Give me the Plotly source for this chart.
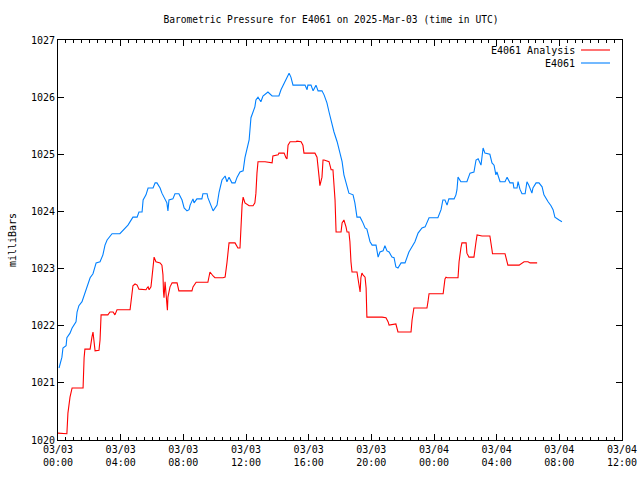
import plotly.graph_objects as go
import pandas as pd

# ---- data (minutes after 2025-03-03 00:00 UTC, pressure in mbar) ----
obs_minutes = [4, 15, 19, 31, 34, 46, 54, 61, 69, 73, 80, 92, 103, 115, 123, 134, 146, 161, 172, 180,
               188, 207, 237, 268, 283, 287, 303, 310, 322, 326, 337, 345, 364, 372, 379, 391, 398, 406, 417, 421,
               425, 440, 448, 463, 475, 483, 494, 502, 506, 517, 521, 532, 551, 555, 571, 574, 590, 594, 609, 617,
               628, 640, 647, 655, 666, 678, 686, 697, 709, 716, 732, 739, 754, 758, 766, 777, 785, 804, 820, 846,
               854, 862, 869, 877, 885, 892, 900, 946, 954, 957, 969, 977, 988, 996, 1011, 1019, 1030, 1038, 1049, 1057,
               1069, 1076, 1088, 1095, 1107, 1114, 1130, 1137, 1145, 1157, 1168, 1176, 1183, 1195, 1203, 1218, 1226, 1233, 1245, 1252,
               1260, 1268, 1279, 1287, 1294, 1302, 1314, 1329, 1344, 1360, 1367, 1379, 1394, 1406, 1421, 1455, 1467, 1474, 1482, 1490,
               1497, 1517, 1524, 1528, 1532, 1543, 1566, 1578, 1593, 1601, 1609, 1620, 1624, 1628, 1635, 1654, 1662, 1670, 1677, 1681,
               1693, 1712, 1720, 1731, 1743, 1746, 1758, 1762, 1769, 1777, 1789, 1796, 1804, 1815, 1819, 1831, 1842, 1854, 1861, 1869,
               1877, 1888, 1896, 1903, 1911, 1919, 1930]
obs_values = [1021.26, 1021.45, 1021.61, 1021.65, 1021.79, 1021.87, 1021.96, 1022.01, 1022.07, 1022.24, 1022.35, 1022.42, 1022.57, 1022.75, 1022.84, 1022.91, 1023.10, 1023.12, 1023.24, 1023.41,
              1023.50, 1023.61, 1023.61, 1023.76, 1023.87, 1023.90, 1023.90, 1023.99, 1023.99, 1024.20, 1024.29, 1024.41, 1024.41, 1024.50, 1024.50, 1024.41, 1024.32, 1024.25, 1024.15, 1024.01,
              1024.20, 1024.22, 1024.31, 1024.31, 1024.20, 1024.06, 1024.01, 1024.03, 1024.11, 1024.22, 1024.15, 1024.22, 1024.22, 1024.31, 1024.31, 1024.24, 1024.08, 1024.01, 1024.11, 1024.34,
              1024.55, 1024.62, 1024.52, 1024.60, 1024.50, 1024.50, 1024.60, 1024.69, 1024.71, 1024.94, 1025.25, 1025.64, 1025.83, 1025.95, 1026.00, 1025.92, 1026.02, 1026.09, 1026.02, 1026.02,
              1026.13, 1026.21, 1026.25, 1026.34, 1026.42, 1026.35, 1026.21, 1026.21, 1026.13, 1026.21, 1026.21, 1026.11, 1026.21, 1026.11, 1026.11, 1026.04, 1025.90, 1025.74, 1025.51, 1025.39,
              1025.22, 1025.08, 1024.87, 1024.64, 1024.43, 1024.32, 1024.29, 1024.15, 1023.90, 1023.90, 1023.80, 1023.71, 1023.69, 1023.47, 1023.41, 1023.41, 1023.20, 1023.29, 1023.31, 1023.40,
              1023.31, 1023.29, 1023.20, 1023.19, 1023.03, 1023.01, 1023.10, 1023.10, 1023.29, 1023.40, 1023.47, 1023.62, 1023.71, 1023.73, 1023.89, 1023.89, 1024.03, 1024.20, 1024.20, 1024.11,
              1024.22, 1024.22, 1024.29, 1024.38, 1024.60, 1024.52, 1024.52, 1024.67, 1024.69, 1024.90, 1024.92, 1024.81, 1025.02, 1025.11, 1025.02, 1025.00, 1024.85, 1024.81, 1024.64, 1024.69,
              1024.52, 1024.52, 1024.60, 1024.50, 1024.50, 1024.41, 1024.41, 1024.52, 1024.39, 1024.31, 1024.31, 1024.52, 1024.45, 1024.32, 1024.41, 1024.50, 1024.50, 1024.43, 1024.29, 1024.22,
              1024.17, 1024.10, 1024.03, 1023.90, 1023.87, 1023.85, 1023.82]

ana_minutes = [0, 34, 38, 46, 54, 96, 100, 103, 123, 126, 130, 134, 138, 142, 157, 161, 165, 191, 199, 211,
               218, 226, 276, 283, 287, 295, 303, 310, 337, 341, 345, 349, 356, 360, 364, 368, 375, 391, 398, 402,
               404, 406, 410, 414, 417, 419, 421, 429, 437, 456, 463, 513, 517, 529, 574, 582, 594, 601, 632, 640,
               647, 651, 655, 678, 689, 697, 701, 705, 709, 716, 732, 747, 754, 758, 762, 766, 793, 812, 820, 823,
               843, 846, 866, 873, 877, 881, 889, 912, 915, 931, 938, 942, 984, 992, 996, 1000, 1003, 1011, 1015, 1019,
               1038, 1046, 1053, 1061, 1065, 1084, 1088, 1092, 1095, 1103, 1107, 1114, 1118, 1122, 1126, 1145, 1149, 1153, 1157, 1160,
               1164, 1168, 1176, 1180, 1183, 1241, 1256, 1264, 1268, 1294, 1298, 1302, 1352, 1356, 1363, 1413, 1417, 1421, 1475, 1482,
               1486, 1490, 1532, 1536, 1543, 1547, 1563, 1566, 1574, 1593, 1601, 1605, 1624, 1654, 1662, 1664, 1712, 1723, 1766, 1781,
               1785, 1800, 1808, 1835]
ana_values = [1020.12, 1020.11, 1020.47, 1020.75, 1020.91, 1020.91, 1021.44, 1021.59, 1021.59, 1021.72, 1021.80, 1021.89, 1021.66, 1021.56, 1021.57, 1021.75, 1022.19, 1022.19, 1022.24, 1022.24,
              1022.19, 1022.28, 1022.28, 1022.63, 1022.70, 1022.73, 1022.71, 1022.64, 1022.63, 1022.66, 1022.68, 1022.63, 1022.68, 1022.85, 1022.99, 1023.20, 1023.12, 1023.10, 1023.06, 1022.89,
              1022.59, 1022.49, 1022.77, 1022.49, 1022.36, 1022.27, 1022.50, 1022.68, 1022.75, 1022.75, 1022.61, 1022.61, 1022.68, 1022.76, 1022.76, 1022.94, 1022.87, 1022.84, 1022.84, 1022.85,
              1023.10, 1023.29, 1023.45, 1023.45, 1023.36, 1023.36, 1023.87, 1024.11, 1024.25, 1024.15, 1024.10, 1024.10, 1024.15, 1024.32, 1024.67, 1024.87, 1024.87, 1024.85, 1024.85, 1024.97,
              1024.99, 1025.02, 1025.02, 1024.94, 1024.92, 1025.16, 1025.22, 1025.22, 1025.23, 1025.22, 1025.16, 1025.02, 1025.02, 1024.95, 1024.81, 1024.60, 1024.45, 1024.60, 1024.90, 1024.90,
              1024.87, 1024.73, 1024.73, 1024.20, 1023.64, 1023.64, 1023.80, 1023.85, 1023.85, 1023.73, 1023.64, 1023.64, 1023.47, 1023.12, 1022.94, 1022.94, 1022.84, 1022.68, 1022.59, 1022.84,
              1022.92, 1022.89, 1022.85, 1022.66, 1022.15, 1022.15, 1022.14, 1022.07, 1022.01, 1022.03, 1021.96, 1021.89, 1021.89, 1022.10, 1022.31, 1022.31, 1022.42, 1022.56, 1022.56, 1022.82,
              1022.85, 1022.84, 1022.84, 1023.12, 1023.36, 1023.45, 1023.45, 1023.27, 1023.20, 1023.20, 1023.47, 1023.59, 1023.57, 1023.57, 1023.33, 1023.26, 1023.26, 1023.06, 1023.06, 1023.10,
              1023.12, 1023.12, 1023.10, 1023.10]

tick_times = ["2025-03-03 00:00", "2025-03-03 04:00", "2025-03-03 08:00", "2025-03-03 12:00", "2025-03-03 16:00",
              "2025-03-03 20:00", "2025-03-04 00:00", "2025-03-04 04:00", "2025-03-04 08:00", "2025-03-04 12:00"]
tick_labels = ["03/03<br>00:00", "03/03<br>04:00", "03/03<br>08:00", "03/03<br>12:00", "03/03<br>16:00",
               "03/03<br>20:00", "03/04<br>00:00", "03/04<br>04:00", "03/04<br>08:00", "03/04<br>12:00"]
y_ticks = [1020, 1021, 1022, 1023, 1024, 1025, 1026, 1027]

series_names = ["E4061 Analysis", "E4061"]
series_colors = ["#ff0000", "#0080ff"]

# ---- build ----
t0 = pd.Timestamp("2025-03-03 00:00")
obs_t = [t0 + pd.Timedelta(minutes=m) for m in obs_minutes]
ana_t = [t0 + pd.Timedelta(minutes=m) for m in ana_minutes]

FONT = "DejaVu Sans Mono"
LW = 1.1

fig = go.Figure()
fig.add_trace(go.Scatter(x=ana_t, y=ana_values, mode="lines", name=series_names[0],
                         line=dict(color=series_colors[0], width=LW), showlegend=False))
fig.add_trace(go.Scatter(x=obs_t, y=obs_values, mode="lines", name=series_names[1],
                         line=dict(color=series_colors[1], width=LW), showlegend=False))

# gnuplot-style legend: text then line sample, top right
legend_y = [50, 63]
for i, (nm, col) in enumerate(zip(series_names, series_colors)):
    yp = 1 - (legend_y[i] - 40) / 400
    fig.add_annotation(x=(577 - 58) / 564, y=yp, xref="paper", yref="paper", text=nm,
                       showarrow=False, xanchor="right", yanchor="middle",
                       font=dict(family=FONT, size=10, color="black"))
    fig.add_shape(type="line", xref="paper", yref="paper",
                  x0=(581 - 58) / 564, x1=(610 - 58) / 564, y0=yp, y1=yp,
                  line=dict(color=col, width=LW))

fig.update_layout(
    width=640, height=480,
    margin=dict(l=58, r=18, t=40, b=40, autoexpand=False),
    paper_bgcolor="white", plot_bgcolor="white",
    font=dict(family=FONT, size=10, color="black"),
    title=dict(text="Barometric Pressure for E4061 on 2025-Mar-03 (time in UTC)",
               x=331 / 640, xanchor="center", xref="container",
               y=1 - 20 / 480, yanchor="middle", yref="container",
               font=dict(family=FONT, size=9.6, color="black")),
    showlegend=False,
)
fig.update_xaxes(
    range=[t0, t0 + pd.Timedelta(hours=36)],
    tickvals=[pd.Timestamp(t) for t in tick_times], ticktext=tick_labels,
    ticks="inside", ticklen=6, tickcolor="black", tickwidth=1,
    minor=dict(dtick=30 * 60 * 1000, ticks="inside", ticklen=3, tickcolor="black", tickwidth=1, showgrid=False),
    showline=True, linecolor="black", linewidth=1, mirror="allticks",
    showgrid=False, zeroline=False, tickfont=dict(family=FONT, size=10),
    automargin=False,
)
fig.update_yaxes(
    range=[1020, 1027], tickvals=y_ticks, ticktext=[str(v) for v in y_ticks],
    ticks="inside", ticklen=6, tickcolor="black", tickwidth=1,
    showline=True, linecolor="black", linewidth=1, mirror="allticks",
    showgrid=False, zeroline=False, tickfont=dict(family=FONT, size=10),
    title=dict(text="milliBars", font=dict(family=FONT, size=10), standoff=12),
    automargin=False,
)

fig.write_html("out.html")
